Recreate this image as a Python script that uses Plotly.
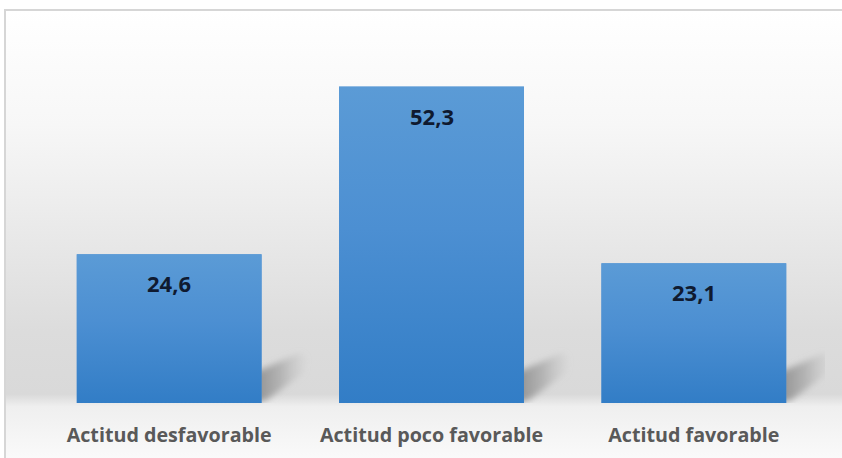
import base64
import plotly.graph_objects as go

# Chart data
categories = ["Actitud desfavorable", "Actitud poco favorable", "Actitud favorable"]
values = [24.6, 52.3, 23.1]
value_labels = ["24,6", "52,3", "23,1"]

# Canvas and plot-area geometry (pixels)
W, H = 842, 458
M_L, M_R, M_T, M_B = 38, 17, 40, 55
PLOT_W = W - M_L - M_R
PLOT_H = H - M_T - M_B
Y_MAX = 60
X_RANGE = (-0.5, len(categories) - 0.5)
BAR_W = 0.705

px_per_x = PLOT_W / (X_RANGE[1] - X_RANGE[0])
px_per_y = PLOT_H / Y_MAX

FONT = "'Open Sans', 'Noto Sans', sans-serif"


def svg_uri(svg):
    return "data:image/svg+xml;base64," + base64.b64encode(svg.encode()).decode()


# Chart-area background: soft vertical gray gradient
bg_svg = """<svg xmlns='http://www.w3.org/2000/svg' width='100' height='100' viewBox='0 0 100 100' preserveAspectRatio='none'>
<defs><linearGradient id='g' x1='0' y1='0' x2='0' y2='1'>
<stop offset='0' stop-color='#ffffff'/>
<stop offset='0.25' stop-color='#f7f7f7'/>
<stop offset='0.70' stop-color='#dcdcdc'/>
<stop offset='0.835' stop-color='#d9d9d9'/>
<stop offset='0.862' stop-color='#efefef'/>
<stop offset='1' stop-color='#fcfcfc'/>
</linearGradient></defs>
<rect width='100' height='100' fill='url(#g)'/></svg>"""

# Bar fill: lighter blue at top, deeper blue at bottom
bar_svg = """<svg xmlns='http://www.w3.org/2000/svg' width='100' height='100' viewBox='0 0 100 100' preserveAspectRatio='none'>
<defs><linearGradient id='b' x1='0' y1='0' x2='0' y2='1'>
<stop offset='0' stop-color='#5b9bd6'/>
<stop offset='0.45' stop-color='#4c8fd2'/>
<stop offset='1' stop-color='#327dc6'/>
</linearGradient></defs>
<rect width='100' height='100' fill='url(#b)'/></svg>"""

# Perspective shadow cast to the lower right of each bar
SH_W, SH_H, SH_IN = 72, 60, 15
shadow_svg = f"""<svg xmlns='http://www.w3.org/2000/svg' width='{SH_W}' height='{SH_H}' viewBox='0 0 {SH_W} {SH_H}' preserveAspectRatio='none'>
<defs>
<filter id='f' x='-50%' y='-50%' width='200%' height='200%'><feGaussianBlur stdDeviation='3.4'/></filter>
<linearGradient id='s' x1='0' y1='0' x2='1' y2='0'>
<stop offset='0' stop-color='#858585' stop-opacity='0.9'/>
<stop offset='0.5' stop-color='#999999' stop-opacity='0.6'/>
<stop offset='1' stop-color='#b5b5b5' stop-opacity='0.05'/>
</linearGradient></defs>
<polygon points='{SH_IN - 8},{SH_H} {SH_IN - 8},{SH_H - 30} {SH_IN + 38},{SH_H - 50} {SH_IN + 45},{SH_H - 46} {SH_IN + 42},{SH_H - 30} {SH_IN + 5},{SH_H - 3}' fill='url(#s)' filter='url(#f)'/>
</svg>"""

fig = go.Figure()

fig.add_trace(go.Bar(
    x=list(range(len(categories))),
    y=values,
    width=BAR_W,
    marker=dict(color="#4a8ed2", line=dict(width=0)),
    hovertext=categories,
    hoverinfo="text+y",
    showlegend=False,
))

images = []
# background frame, in paper coordinates
FRAME_X0, FRAME_Y0, FRAME_X1, FRAME_Y1 = 5, 10, W + 6, H + 12
images.append(dict(
    source=svg_uri(bg_svg), xref="paper", yref="paper",
    x=(FRAME_X0 - M_L) / PLOT_W, y=(H - M_B - FRAME_Y0) / PLOT_H,
    sizex=(FRAME_X1 - FRAME_X0) / PLOT_W, sizey=(FRAME_Y1 - FRAME_Y0) / PLOT_H,
    xanchor="left", yanchor="top", sizing="stretch", layer="below",
))

for i, v in enumerate(values):
    right = i + BAR_W / 2
    images.append(dict(
        source=svg_uri(shadow_svg), xref="x", yref="y",
        x=right - SH_IN / px_per_x, y=0,
        sizex=SH_W / px_per_x, sizey=SH_H / px_per_y,
        xanchor="left", yanchor="bottom", sizing="stretch", layer="below",
    ))
    images.append(dict(
        source=svg_uri(bar_svg), xref="x", yref="y",
        x=i - BAR_W / 2, y=v,
        sizex=BAR_W, sizey=v,
        xanchor="left", yanchor="top", sizing="stretch", layer="above",
    ))

annotations = [
    dict(x=i, y=v, xref="x", yref="y", text=f"<b>{lab}</b>", showarrow=False,
         yanchor="middle", yshift=-29,
         font=dict(family=FONT, size=22, color="#0f1a30"))
    for i, (v, lab) in enumerate(zip(values, value_labels))
]

fig.update_layout(
    width=W, height=H,
    margin=dict(l=M_L, r=M_R, t=M_T, b=M_B, pad=0, autoexpand=False),
    paper_bgcolor="#ffffff",
    plot_bgcolor="rgba(0,0,0,0)",
    images=images,
    annotations=annotations,
    shapes=[dict(
        type="rect", xref="paper", yref="paper",
        x0=(FRAME_X0 - M_L) / PLOT_W, x1=(FRAME_X1 - M_L) / PLOT_W,
        y0=(H - M_B - FRAME_Y1) / PLOT_H, y1=(H - M_B - FRAME_Y0) / PLOT_H,
        line=dict(color="#d6d6d6", width=2), fillcolor="rgba(0,0,0,0)", layer="below",
    )],
    xaxis=dict(
        range=list(X_RANGE), tickmode="array",
        tickvals=list(range(len(categories))),
        ticktext=[f"<b>{c}</b>" for c in categories],
        tickfont=dict(family=FONT, size=19.7, color="#595959"),
        showgrid=False, zeroline=False, showline=False, ticks="",
        ticklabelstandoff=18, automargin=False, fixedrange=True,
    ),
    yaxis=dict(range=[0, Y_MAX], visible=False, showgrid=False, zeroline=False,
               automargin=False, fixedrange=True),
    bargap=0.3,
)

fig.write_html("out.html")
